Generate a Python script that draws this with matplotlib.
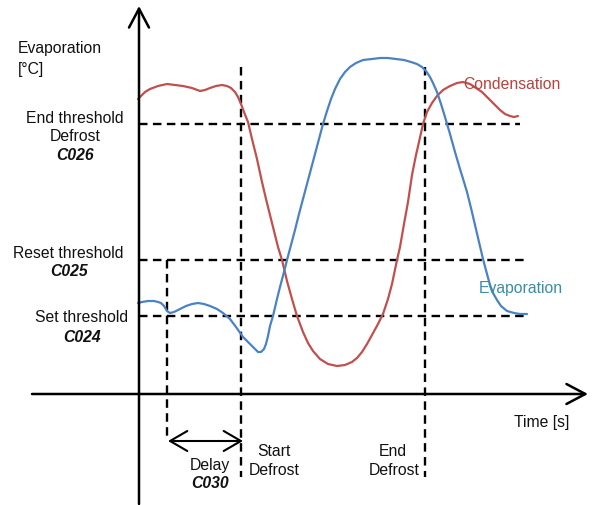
import matplotlib
matplotlib.use("Agg")
import matplotlib.pyplot as plt

# schematic drawn in image pixel space (x to the right, y downwards)
W, H = 597, 506

# condensation curve (red)
cond_x = [138, 141, 145, 150, 158, 167, 175, 183, 192, 200, 205, 210, 216, 222, 227,
          231, 235, 238, 241, 244, 248, 252, 257, 262, 266, 269, 274, 278, 282, 287,
          292, 297, 303, 308, 313, 320, 328, 337, 345, 352, 357, 362, 367, 372, 378, 383,
          388, 392, 397, 400, 404, 408, 412, 416, 419, 423, 427, 432, 437, 443, 450,
          457, 463, 470, 476, 482, 488, 494, 500, 505, 510, 514, 518]
cond_y = [100, 97, 93, 90, 87, 85, 86, 87, 89, 92, 91, 89, 87, 86, 87,
          89, 93, 98, 105, 113, 123, 140, 160, 183, 200, 212, 232, 248, 261, 282,
          300, 317, 333, 344, 352, 360, 365, 367, 366, 363, 359, 353, 345, 336, 325, 315,
          300, 285, 261, 248, 225, 203, 176, 156, 143, 125, 113, 104, 97, 91, 87,
          84, 83, 85, 89, 93, 99, 105, 111, 115, 117, 118, 117]

# evaporation curve (blue)
evap_x = [138, 142, 148, 154, 158, 161, 164, 167, 170, 174, 180, 186, 192, 198, 204,
          210, 217, 223, 230, 236, 243, 248, 253, 258, 261, 264, 266, 268, 270, 273,
          277, 280, 284, 287, 291, 295, 299, 303, 307, 311, 315, 319, 323, 327, 331,
          335, 340, 345, 350, 356, 363, 372, 380, 388, 396, 404, 411, 417, 422, 426,
          430, 433, 437, 441, 445, 450, 455, 460, 464, 467, 471, 475, 479, 483, 487,
          490, 493, 497, 501, 507, 514, 520, 527]
evap_y = [304, 303, 302, 302, 303, 304, 307, 312, 314, 313, 310, 307, 305, 304, 305,
          307, 310, 314, 320, 328, 338, 343, 348, 353, 353, 350, 345, 337, 327, 317,
          300, 288, 273, 261, 246, 231, 215, 200, 185, 170, 155, 140, 125, 112, 100,
          90, 80, 73, 68, 64, 61, 60, 59, 59, 60, 61, 63, 65, 68, 72,
          78, 84, 93, 105, 118, 135, 153, 170, 183, 193, 209, 226, 243, 260, 275,
          286, 294, 301, 307, 312, 314, 315, 315]

# threshold levels (y) with right ends of their dashed lines
thr_y = [125, 261, 317]
thr_xend = [520, 527, 528]
# event times (x): delay start, start defrost, end defrost
evt_x = [167, 241, 425]
evt_top = [261, 68, 68]
evt_bot = [442, 478, 478]

origin_x, origin_y = 139, 395

plt.rcParams['font.family'] = ['Liberation Sans', 'DejaVu Sans']
FS = 11.3

fig = plt.figure(figsize=(W / 100, H / 100), dpi=100)
ax = fig.add_axes([0, 0, 1, 1])
ax.set_xlim(0, W)
ax.set_ylim(H, 0)
ax.axis('off')

dash = dict(color='black', lw=1.7, linestyle=(0, (3.6, 2.3)))
for y, xe in zip(thr_y, thr_xend):
    ax.plot([origin_x, xe], [y, y], **dash)
for x, t, b in zip(evt_x, evt_top, evt_bot):
    ax.plot([x, x], [t, b], **dash)

ax.plot(cond_x, cond_y, color='#C0504D', lw=1.6, solid_capstyle='round',
        solid_joinstyle='round')
ax.plot(evap_x, evap_y, color='#4A82C4', lw=1.6, solid_capstyle='round',
        solid_joinstyle='round')

# axes with open arrow heads
arr = dict(arrowstyle='->,head_length=0.68,head_width=0.36', lw=1.8, color='black',
           shrinkA=0, shrinkB=0, mutation_scale=20)
ax.annotate('', xy=(origin_x, 7), xytext=(origin_x, 505), arrowprops=arr)
ax.annotate('', xy=(588, origin_y), xytext=(32, origin_y), arrowprops=arr)
darr = dict(arr, arrowstyle='<->,head_length=0.62,head_width=0.36', lw=1.5)
ax.annotate('', xy=(evt_x[1] + 2, 442), xytext=(evt_x[0] + 1, 442), arrowprops=darr)

def txt(x, y, s, ha='center', bold=False, color='#111111'):
    ax.text(x, y, s, ha=ha, va='center', fontsize=FS, color=color,
            fontweight='bold' if bold else 'normal',
            fontstyle='italic' if bold else 'normal')

txt(18, 48, 'Evaporation', ha='left')
txt(18, 69, '[°C]', ha='left')
txt(75, 118, 'End threshold')
txt(75, 136, 'Defrost')
txt(75, 155, 'C026', bold=True)
txt(68, 253, 'Reset threshold')
txt(69, 271, 'C025', bold=True)
txt(82, 318, 'Set threshold')
txt(82, 337, 'C024', bold=True)
txt(210, 466, 'Delay')
txt(210, 484, 'C030', bold=True)
txt(274, 452, 'Start')
txt(274, 471, 'Defrost')
txt(393, 452, 'End')
txt(394, 471, 'Defrost')
txt(514, 423, 'Time [s]', ha='left')
txt(463, 84, 'Condensation', ha='left', color='#B5433F')
txt(479, 288, 'Evaporation', ha='left', color='#3A8DA6')

fig.savefig('out.png', dpi=100)
